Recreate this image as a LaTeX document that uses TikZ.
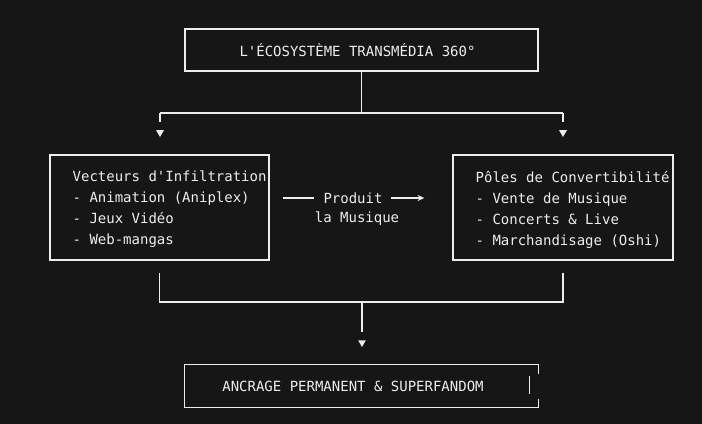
\documentclass[tikz,border=0pt]{standalone}
\usepackage{fontspec}
\setmonofont{DejaVu Sans Mono}
\usetikzlibrary{arrows.meta,shapes.geometric}
\definecolor{bgdark}{HTML}{161616}
\definecolor{ink}{HTML}{EDEDED}

\begin{document}
\begin{tikzpicture}[x=0.75pt,y=-0.75pt,line width=1pt,draw=ink,text=ink,
                    font=\ttfamily\fontsize{10.5pt}{15.75pt}\selectfont,
                    boxframe/.style={draw=ink,inner sep=0pt,minimum height=31.5pt},
                    lines/.style={anchor=west,align=left,inner sep=0pt},
                    pointer/.style={regular polygon,regular polygon sides=3,
                      shape border rotate=180,fill=ink,draw=none,inner sep=0pt,
                      minimum size=6.75pt}]
  \fill[bgdark] (0,0) rectangle (702,424);

  % top
  \node[boxframe,minimum width=264.75pt] (eco) at (361.5,50) {};
  \node (ecotxt) at (357.5,50.5) {L'ÉCOSYSTÈME TRANSMÉDIA 360°};

  % the two poles
  \node[boxframe,minimum width=164.25pt,minimum height=78.75pt] (vect) at (159.5,207.5) {};
  \node[lines] (vecttxt) at (72,209.5) {Vecteurs d'Infiltration\\- Animation (Aniplex)\\- Jeux Vidéo\\- Web-mangas};
  \node[boxframe,minimum width=165pt,minimum height=78.75pt] (conv) at (563,207.5) {};
  \node[lines] (convtxt) at (475,209.5) {Pôles de Convertibilité\\- Vente de Musique\\- Concerts \& Live\\- Marchandisage (Oshi)};

  \node[inner sep=0pt] (prod) at (353,198) {Produit};
  \node[inner sep=0pt] (musi) at (357,219) {la Musique};

  % bottom
  \node[minimum width=264.75pt,minimum height=31.5pt,inner sep=0pt] (anc) at (361.5,386) {};
  \node (anctxt) at (353,386.5) {ANCRAGE PERMANENT \& SUPERFANDOM};

  \coordinate (busL) at (160,113);
  \coordinate (busR) at (563,113);
  \coordinate (joinL) at (160,302);
  \coordinate (joinM) at (362,302);
  \node[pointer] (pL) at (160,132.5) {};
  \node[pointer] (pR) at (563,132.5) {};
  \node[pointer] (pB) at (362,342.5) {};

  \draw (eco.south) -- (eco.south |- busL);
  \draw (busL) -- (busR);
  \draw[shorten >=6pt] (busL) -- (pL);
  \draw[shorten >=6pt] (busR) -- (pR);

  \draw[shorten <=9.75pt,shorten >=6.75pt] (vect.east |- prod) -- (prod.west);
  \draw[-{Stealth[length=5pt,width=4.5pt]},shorten <=5.7pt,shorten >=21pt] (prod.east) -- (conv.west |- prod);

  \draw[shorten <=9pt,shorten >=9pt] (vect.south) -- (vect.south |- joinL)
        -- (conv.south |- joinL) -- (conv.south);
  \draw[shorten >=6pt] (joinM) -- (pB);

  \draw ([yshift=-7.5pt]anc.north east) -- (anc.north east) -- (anc.north west)
        -- (anc.south west) -- (anc.south east) -- ++(0,-9);
  \draw ([xshift=-6.75pt,yshift=-9pt]anc.north east) -- ++(0,18);
\end{tikzpicture}
\end{document}
